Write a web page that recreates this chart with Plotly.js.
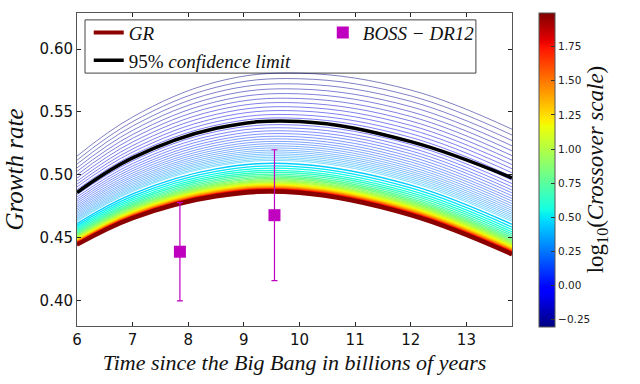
<!DOCTYPE html>
<html>
<head>
<meta charset="utf-8">
<script src="https://cdn.plot.ly/plotly-3.0.1.min.js"></script>
<style>html,body{margin:0;padding:0;background:#fff;}#chart{width:640px;height:384px;}</style>
</head>
<body>
<div id="chart"></div>
<script>
// ---------------- data ----------------
// sample times (billions of years since the Big Bang)
const time = [6, 7, 8.5, 10, 12, 13.82];
// GR growth rate
const grRate = [0.4444, 0.4655, 0.4828, 0.4855, 0.4678, 0.4367];
// 95% confidence limit curve
const limit95 = [0.4860, 0.5135, 0.5370, 0.5425, 0.5264, 0.4976];
// log10(crossover scale) of each modified-gravity curve
const logCrossover = [
  -0.300, -0.275, -0.250, -0.225, -0.200, -0.175, -0.150, -0.125, -0.100, -0.075,
  -0.050, -0.025, 0.000, 0.025, 0.050, 0.075, 0.100, 0.125, 0.150, 0.175,
  0.200, 0.225, 0.250, 0.275, 0.300, 0.325, 0.350, 0.375, 0.400,
  0.45, 0.50, 0.55, 0.60, 0.65, 0.70, 0.75, 0.80, 0.85, 0.90,
  0.95, 1.00, 1.05, 1.10, 1.15, 1.20, 1.25, 1.30, 1.35, 1.40,
  1.45, 1.50, 1.55, 1.60, 1.65, 1.70, 1.75, 1.80, 1.85, 1.90, 1.95, 2.00
];
// growth rate of each curve at the sample times
const crossoverCurves = [
  [0.5149, 0.5460, 0.5738, 0.5808, 0.5674, 0.5363],
  [0.5117, 0.5423, 0.5696, 0.5764, 0.5628, 0.5317],
  [0.5086, 0.5388, 0.5656, 0.5722, 0.5584, 0.5273],
  [0.5056, 0.5354, 0.5618, 0.5682, 0.5542, 0.5231],
  [0.5028, 0.5321, 0.5581, 0.5644, 0.5502, 0.5191],
  [0.5001, 0.5291, 0.5546, 0.5607, 0.5464, 0.5153],
  [0.4975, 0.5261, 0.5513, 0.5572, 0.5428, 0.5117],
  [0.4950, 0.5233, 0.5481, 0.5539, 0.5393, 0.5082],
  [0.4927, 0.5206, 0.5451, 0.5508, 0.5360, 0.5049],
  [0.4905, 0.5181, 0.5422, 0.5477, 0.5328, 0.5017],
  [0.4883, 0.5157, 0.5395, 0.5449, 0.5298, 0.4987],
  [0.4863, 0.5133, 0.5369, 0.5421, 0.5270, 0.4959],
  [0.4844, 0.5111, 0.5344, 0.5395, 0.5242, 0.4931],
  [0.4825, 0.5090, 0.5320, 0.5370, 0.5216, 0.4905],
  [0.4807, 0.5070, 0.5297, 0.5346, 0.5191, 0.4880],
  [0.4791, 0.5051, 0.5275, 0.5324, 0.5168, 0.4857],
  [0.4775, 0.5033, 0.5255, 0.5302, 0.5145, 0.4834],
  [0.4759, 0.5015, 0.5235, 0.5281, 0.5123, 0.4812],
  [0.4745, 0.4998, 0.5216, 0.5261, 0.5103, 0.4792],
  [0.4731, 0.4983, 0.5198, 0.5243, 0.5083, 0.4772],
  [0.4718, 0.4967, 0.5181, 0.5225, 0.5064, 0.4753],
  [0.4705, 0.4953, 0.5165, 0.5208, 0.5046, 0.4735],
  [0.4693, 0.4939, 0.5149, 0.5191, 0.5029, 0.4718],
  [0.4681, 0.4926, 0.5134, 0.5176, 0.5013, 0.4702],
  [0.4670, 0.4913, 0.5120, 0.5161, 0.4998, 0.4687],
  [0.4660, 0.4901, 0.5107, 0.5147, 0.4983, 0.4672],
  [0.4650, 0.4890, 0.5094, 0.5133, 0.4969, 0.4658],
  [0.4640, 0.4879, 0.5081, 0.5120, 0.4955, 0.4644],
  [0.4631, 0.4869, 0.5070, 0.5108, 0.4942, 0.4631],
  [0.4614, 0.4850, 0.5048, 0.5085, 0.4919, 0.4608],
  [0.4599, 0.4832, 0.5028, 0.5064, 0.4897, 0.4586],
  [0.4585, 0.4816, 0.5010, 0.5046, 0.4877, 0.4566],
  [0.4572, 0.4801, 0.4994, 0.5028, 0.4859, 0.4548],
  [0.4561, 0.4788, 0.4979, 0.5013, 0.4843, 0.4532],
  [0.4550, 0.4776, 0.4965, 0.4998, 0.4828, 0.4517],
  [0.4540, 0.4765, 0.4953, 0.4985, 0.4814, 0.4503],
  [0.4532, 0.4755, 0.4941, 0.4974, 0.4802, 0.4491],
  [0.4524, 0.4746, 0.4931, 0.4963, 0.4791, 0.4480],
  [0.4517, 0.4738, 0.4922, 0.4953, 0.4781, 0.4470],
  [0.4510, 0.4730, 0.4913, 0.4944, 0.4771, 0.4460],
  [0.4504, 0.4724, 0.4906, 0.4936, 0.4763, 0.4452],
  [0.4499, 0.4717, 0.4899, 0.4929, 0.4755, 0.4444],
  [0.4494, 0.4712, 0.4892, 0.4922, 0.4748, 0.4437],
  [0.4489, 0.4707, 0.4886, 0.4916, 0.4742, 0.4431],
  [0.4485, 0.4702, 0.4881, 0.4911, 0.4736, 0.4425],
  [0.4481, 0.4698, 0.4876, 0.4906, 0.4731, 0.4420],
  [0.4478, 0.4694, 0.4872, 0.4901, 0.4726, 0.4415],
  [0.4475, 0.4690, 0.4868, 0.4897, 0.4722, 0.4411],
  [0.4472, 0.4687, 0.4864, 0.4893, 0.4718, 0.4407],
  [0.4470, 0.4684, 0.4861, 0.4890, 0.4714, 0.4403],
  [0.4467, 0.4682, 0.4858, 0.4887, 0.4711, 0.4400],
  [0.4465, 0.4679, 0.4855, 0.4884, 0.4708, 0.4397],
  [0.4463, 0.4677, 0.4853, 0.4881, 0.4705, 0.4394],
  [0.4462, 0.4675, 0.4851, 0.4879, 0.4703, 0.4392],
  [0.4460, 0.4673, 0.4849, 0.4877, 0.4701, 0.4390],
  [0.4459, 0.4672, 0.4847, 0.4875, 0.4698, 0.4387],
  [0.4457, 0.4670, 0.4845, 0.4873, 0.4697, 0.4386],
  [0.4456, 0.4669, 0.4844, 0.4871, 0.4695, 0.4384],
  [0.4455, 0.4668, 0.4842, 0.4870, 0.4693, 0.4382],
  [0.4454, 0.4666, 0.4841, 0.4869, 0.4692, 0.4381],
  [0.4453, 0.4665, 0.4840, 0.4867, 0.4691, 0.4380]
];
// BOSS DR12 measurements
const bossTime = [7.85, 9.55];
const bossRate = [0.439, 0.468];
const bossErr = [0.039, 0.052];
// tick labels
const xTicks = [6, 7, 8, 9, 10, 11, 12, 13];
const yTicks = [0.40, 0.45, 0.50, 0.55, 0.60];
const cbTicks = [-0.25, 0.00, 0.25, 0.50, 0.75, 1.00, 1.25, 1.50, 1.75];

// ---------------- styling ----------------
const cMin = -0.3, cMax = 2.0;
// matplotlib "jet"
const jet = [
  [0, 'rgb(0,0,128)'], [0.11, 'rgb(0,0,255)'], [0.125, 'rgb(0,0,255)'],
  [0.34, 'rgb(0,219,255)'], [0.35, 'rgb(0,230,247)'], [0.375, 'rgb(21,255,226)'],
  [0.64, 'rgb(239,255,8)'], [0.65, 'rgb(247,245,0)'], [0.66, 'rgb(255,236,0)'],
  [0.89, 'rgb(255,19,0)'], [0.91, 'rgb(232,0,0)'], [1, 'rgb(128,0,0)']
];
function parseRGB(s) { return s.match(/\d+/g).map(Number); }
function jetColor(v) {
  let f = (v - cMin) / (cMax - cMin);
  f = Math.max(0, Math.min(1, f));
  for (let i = 1; i < jet.length; i++) {
    if (f <= jet[i][0]) {
      const a = jet[i - 1], b = jet[i];
      const t = (f - a[0]) / ((b[0] - a[0]) || 1);
      const ca = parseRGB(a[1]), cb = parseRGB(b[1]);
      const c = ca.map((x, k) => Math.round(x + (cb[k] - x) * t));
      return 'rgb(' + c.join(',') + ')';
    }
  }
  return jet[jet.length - 1][1];
}

const serif = 'Liberation Serif, DejaVu Serif, serif';
const sans = 'DejaVu Sans, sans-serif';
const traces = [];

logCrossover.forEach((L, i) => {
  traces.push({
    x: time, y: crossoverCurves[i], type: 'scatter', mode: 'lines',
    line: {color: jetColor(L), width: L <= 0.4 ? 0.5 : 1.4, shape: 'spline', smoothing: 1.1},
    showlegend: false, hoverinfo: 'skip'
  });
});

traces.push({
  x: time, y: grRate, type: 'scatter', mode: 'lines', name: '<i>GR</i>', legend: 'legend',
  line: {color: '#8b0000', width: 3.8, shape: 'spline', smoothing: 1.1}
});
traces.push({
  x: time, y: limit95, type: 'scatter', mode: 'lines', name: '95% <i>confidence limit</i>', legend: 'legend',
  line: {color: '#000000', width: 3.5, shape: 'spline', smoothing: 1.1}
});
traces.push({
  x: bossTime, y: bossRate, type: 'scatter', mode: 'markers', name: '<i>BOSS − DR12</i>', legend: 'legend2',
  marker: {symbol: 'square', size: 12, color: '#bf00bf'},
  error_y: {type: 'data', array: bossErr, visible: true, color: '#bf00bf', thickness: 1.2, width: 3}
});
// colour bar holder
traces.push({
  x: [null], y: [null], type: 'scatter', mode: 'markers', showlegend: false, hoverinfo: 'skip',
  marker: {
    color: [cMin], cmin: cMin, cmax: cMax, colorscale: jet, showscale: true, size: 0,
    colorbar: {
      x: 1.062, xanchor: 'left', xpad: 0, y: 0.5, yanchor: 'middle', ypad: 0,
      len: 1.003, lenmode: 'fraction',
      thickness: 16, outlinewidth: 1, outlinecolor: '#555',
      tickvals: cbTicks, tickformat: '.2f', ticks: 'inside', ticklen: 4, tickcolor: '#333',
      tickfont: {family: sans, size: 10.5, color: '#222'},
      title: {text: 'log<sub>10</sub>(<i>Crossover scale</i>)', side: 'right',
              font: {family: serif, size: 23, color: '#111'}}
    }
  }
});

const axisCommon = {
  showline: true, linecolor: '#555', linewidth: 1, mirror: 'ticks',
  ticks: 'inside', ticklen: 4, tickcolor: '#222', showgrid: false, zeroline: false,
  tickfont: {family: sans, size: 15, color: '#111'}
};

const legendFont = {family: serif, size: 19, color: '#111'};
const layout = {
  width: 640, height: 384,
  margin: {l: 77, r: 128, t: 13, b: 58},
  paper_bgcolor: '#fff', plot_bgcolor: '#fff',
  xaxis: Object.assign({}, axisCommon, {
    range: [6, 13.82], tickvals: xTicks, ticktext: xTicks.map(String),
    title: {text: '<i>Time since the Big Bang in billions of years</i>', standoff: 6,
            font: {family: serif, size: 22, color: '#111'}}
  }),
  yaxis: Object.assign({}, axisCommon, {
    range: [0.38, 0.6286], tickvals: yTicks, tickformat: '.2f',
    title: {text: '<i>Growth rate</i>', standoff: 8,
            font: {family: serif, size: 25, color: '#111'}}
  }),
  legend: {
    x: 0.027, y: 0.998, xanchor: 'left', yanchor: 'top',
    bgcolor: 'rgba(0,0,0,0)', borderwidth: 0, font: legendFont,
    traceorder: 'normal', tracegroupgap: 0
  },
  legend2: {
    x: 0.565, y: 0.998, xanchor: 'left', yanchor: 'top',
    bgcolor: 'rgba(0,0,0,0)', borderwidth: 0, font: legendFont
  },
  shapes: [{
    type: 'rect', xref: 'paper', yref: 'paper', layer: 'below',
    x0: 0.0184, x1: 0.917, y0: 0.808, y1: 0.978,
    line: {color: '#444', width: 1}, fillcolor: '#fff'
  }],
  showlegend: true
};

Plotly.newPlot('chart', traces, layout, {displayModeBar: false, staticPlot: true});
</script>
</body>
</html>
